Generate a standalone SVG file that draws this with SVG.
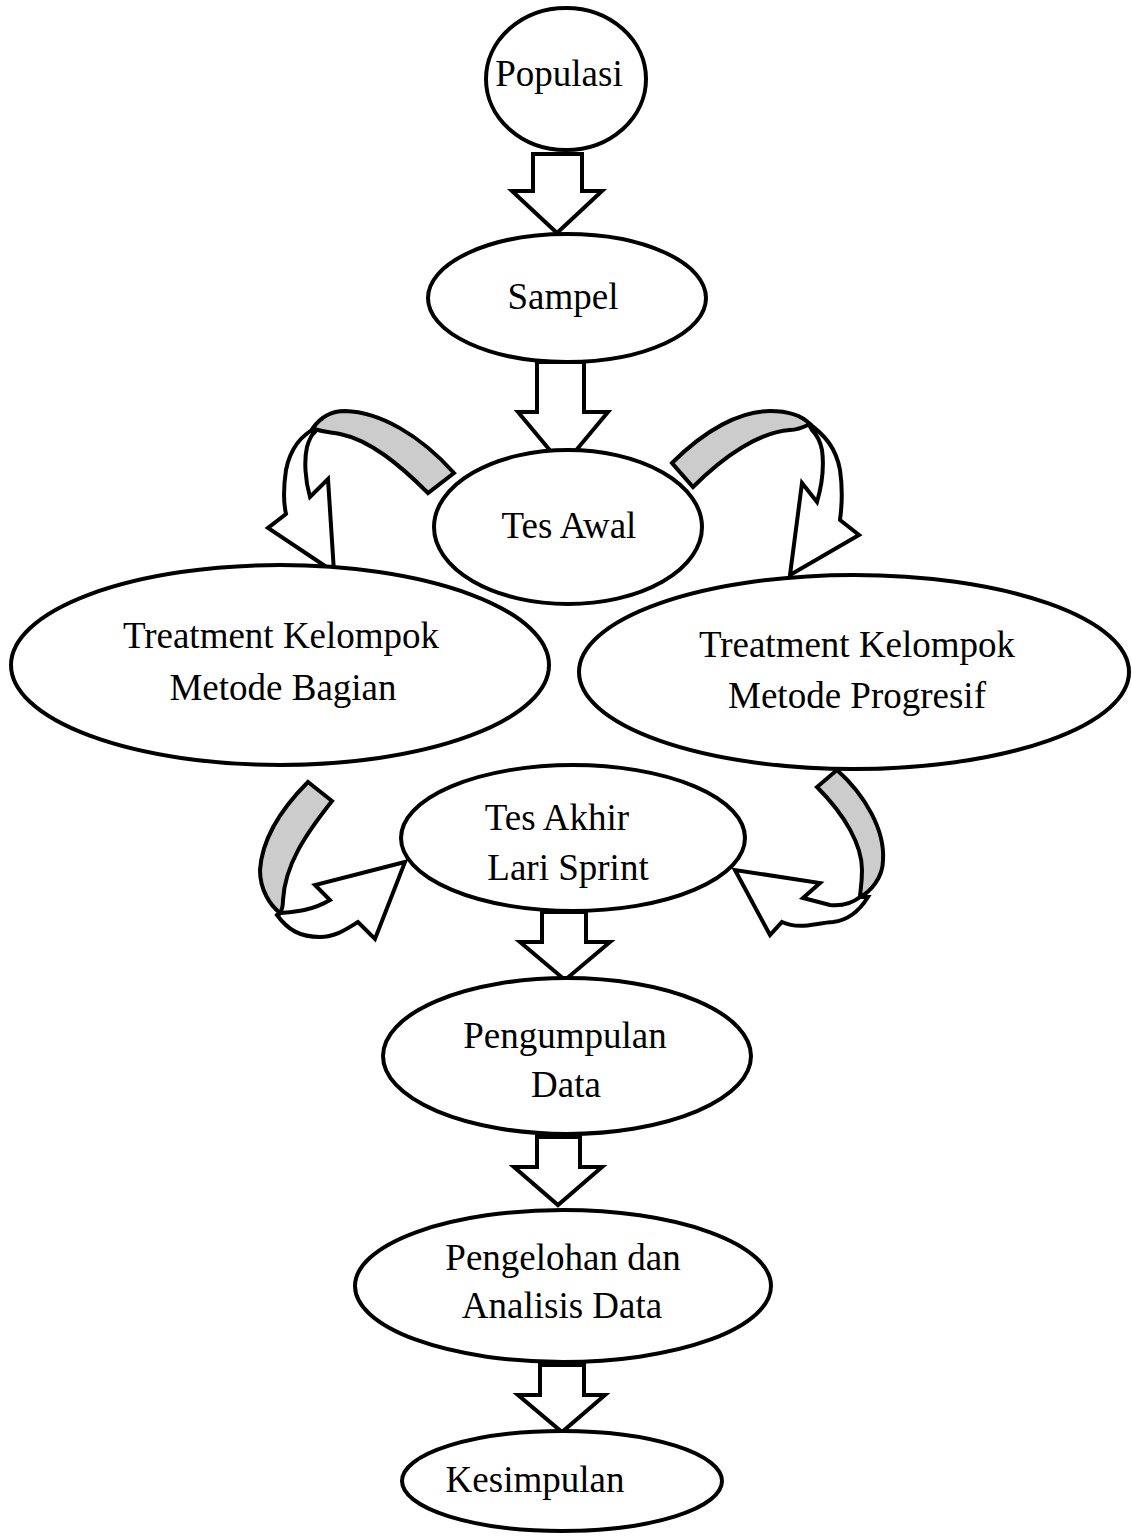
<svg xmlns="http://www.w3.org/2000/svg" width="1132" height="1539" viewBox="0 0 1132 1539">
<style>
.n{fill:#fff;stroke:#000;stroke-width:4}
.t{font-family:"Liberation Serif","Times New Roman",serif;font-size:37px;fill:#000;text-anchor:middle}
.a{fill:#fff;stroke:#000;stroke-width:4;stroke-linejoin:miter}
.g{fill:#ccc;stroke:#000;stroke-width:4;stroke-linejoin:miter}
</style>
<rect width="1132" height="1539" fill="#fff"/>
<g id="connectors">
<polygon class="a" points="533,154 582,154 582,191 602,191 557,233 512,191 533,191"/>
<polygon class="a" points="537,362 584,362 584,412 608,412 563,466 518,412 537,412"/>
<polygon class="a" points="542,912 586,912 586,942 610,942 565,980 520,942 542,942"/>
<polygon class="a" points="537,1137 580,1137 580,1167 602,1167 558,1205 514,1167 537,1167"/>
<polygon class="a" points="540,1365 584,1365 584,1395 605,1395 562,1432 518,1395 540,1395"/>
<path class="a" d="M318,427 C300,435 290,450 286,470 C283,490 284,505 286,514 L268,528 L334,572 L328,479 L310,497 C305,480 304,460 307,447 C309,440 311,435 315,432 Z"/>
<path class="g" d="M454,473 C420,435 380,412 345,411 C330,411 320,418 313,428 C320,432 330,432 340,434 C370,440 400,465 428,493 Z"/>
<path class="a" d="M808,423 C825,435 836,448 840,470 C843,490 842,505 840,520 L859,535 L790,575 L802,483 L817,502 C822,485 824,465 822,450 C820,440 816,434 812,430 Z"/>
<path class="g" d="M672,463 C705,430 740,411 770,411 C790,411 802,416 810,424 C800,429 795,430 790,430 C760,432 725,455 693,487 Z"/>
<path class="a" d="M279,913 C290,912 310,912 330,900 L315,885 L405,862 L375,939 L358,922 C345,930 335,937 320,937 C300,937 288,930 277,915 Z"/>
<path class="g" d="M308,782 L332,801 C305,835 285,865 283,900 C283,905 282,910 280,913 C270,905 260,890 260,870 C262,840 280,810 308,782 Z"/>
<path class="a" d="M860,897 C850,905 840,906 830,905 L803,898 L820,883 L735,870 L770,935 L782,922 C800,930 815,923 833,922 C850,920 860,910 868,897 Z"/>
<path class="g" d="M837,770 L817,787 C845,815 862,845 862,870 C862,885 860,892 860,897 C870,892 883,878 883,860 C885,830 865,795 837,770 Z"/>
</g>
<g id="populasi"><ellipse class="n" cx="566" cy="79" rx="80" ry="71"/><text class="t" x="559" y="86">Populasi</text></g>
<g id="sampel"><ellipse class="n" cx="567" cy="298" rx="139" ry="64"/><text class="t" x="563" y="309">Sampel</text></g>
<g id="tes-awal"><ellipse class="n" cx="568" cy="527" rx="134" ry="77"/><text class="t" x="569" y="538">Tes Awal</text></g>
<g id="treatment-bagian"><ellipse class="n" cx="280" cy="665" rx="269" ry="100"/><text class="t" x="281" y="648">Treatment Kelompok</text><text class="t" x="283" y="700">Metode Bagian</text></g>
<g id="treatment-progresif"><ellipse class="n" cx="854" cy="672" rx="275" ry="97"/><text class="t" x="857" y="657">Treatment Kelompok</text><text class="t" x="857" y="708">Metode Progresif</text></g>
<g id="tes-akhir"><ellipse class="n" cx="573" cy="838" rx="172" ry="73"/><text class="t" x="557" y="830">Tes Akhir</text><text class="t" x="568" y="880">Lari Sprint</text></g>
<g id="pengumpulan"><ellipse class="n" cx="567" cy="1056" rx="184" ry="78"/><text class="t" x="565" y="1048">Pengumpulan</text><text class="t" x="566" y="1097">Data</text></g>
<g id="pengelohan"><ellipse class="n" cx="563" cy="1286" rx="208" ry="76"/><text class="t" x="563" y="1270">Pengelohan dan</text><text class="t" x="562" y="1318">Analisis Data</text></g>
<g id="kesimpulan"><ellipse class="n" cx="562" cy="1481" rx="160" ry="50"/><text class="t" x="535" y="1492">Kesimpulan</text></g>
</svg>
